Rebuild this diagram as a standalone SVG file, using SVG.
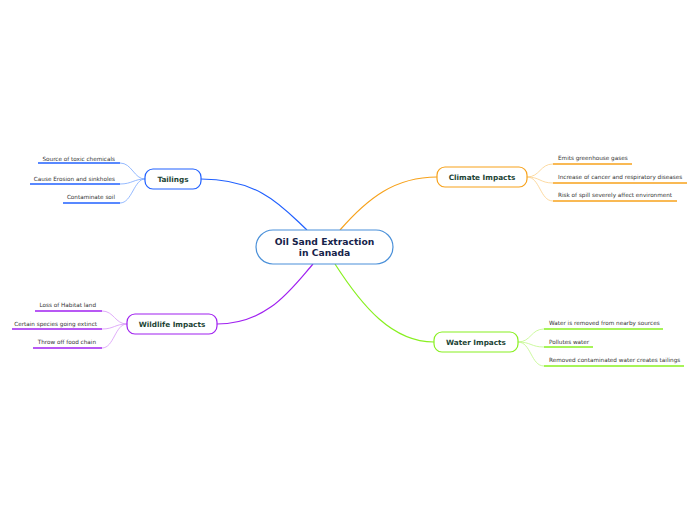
<svg xmlns="http://www.w3.org/2000/svg" width="696" height="520" viewBox="0 0 696 520">
<style>
.node{fill:#fff;stroke-width:1.2}
.title{font-family:"DejaVu Sans",Verdana,sans-serif;font-weight:bold;font-size:7.3px;fill:#1d4535;text-anchor:middle}
.center{font-family:"DejaVu Sans",Verdana,sans-serif;font-weight:bold;font-size:9.2px;fill:#16234a;text-anchor:middle}
.leaf{font-family:"DejaVu Sans",Verdana,sans-serif;font-size:5.7px;fill:#333}
.r{text-anchor:end}
.conn{fill:none;stroke-width:1.2}
.sub{fill:none;stroke-width:0.8}
.ul{stroke-width:1.5}
</style>
<rect width="696" height="520" fill="#fff"/>
<g id="connectors">
<path class="conn" stroke="#2060ff" d="M201,179 C262,179 285,210 307,230"/>
<path class="conn" stroke="#f7a21b" d="M340,230 C368,198 395,177 437,177"/>
<path class="conn" stroke="#a020f0" d="M217,324 C268,324 292,288 313,264"/>
<path class="conn" stroke="#88f020" d="M335,264 C362,306 392,342 434,342"/>
<g stroke="#7aa8ff" class="sub">
<path d="M120,163 C132,163 134,179 145,179"/>
<path d="M120,184 C132,184 134,179 145,179"/>
<path d="M120,203 C132,203 134,179 145,179"/>
</g>
<g stroke="#fbd08a" class="sub">
<path d="M527,177 C540,177 540,164 553,164"/>
<path d="M527,177 C540,177 540,183 553,183"/>
<path d="M527,177 C540,177 540,201 553,201"/>
</g>
<g stroke="#d898f8" class="sub">
<path d="M102,311 C114,311 115,324 127,324"/>
<path d="M102,329 C114,329 115,324 127,324"/>
<path d="M102,348 C114,348 115,324 127,324"/>
</g>
<g stroke="#c0f888" class="sub">
<path d="M518,342 C531,342 531,329 544,329"/>
<path d="M518,342 C531,342 531,347 544,347"/>
<path d="M518,342 C531,342 531,366 544,366"/>
</g>
</g>
<g id="center">
<rect class="node" x="256" y="230" width="137" height="34" rx="17" stroke="#4a90d9"/>
<text class="center" x="324.5" y="245">Oil Sand Extraction</text>
<text class="center" x="324.5" y="256">in Canada</text>
</g>
<g id="tailings">
<rect class="node" x="145" y="169" width="56" height="20" rx="8" stroke="#2060ff"/>
<text class="title" x="173" y="181.5">Tailings</text>
</g>
<g id="climate">
<rect class="node" x="437" y="167" width="90" height="20" rx="8" stroke="#f7a21b"/>
<text class="title" x="482" y="179.5">Climate Impacts</text>
</g>
<g id="wildlife">
<rect class="node" x="127" y="314" width="90" height="20" rx="8" stroke="#a020f0"/>
<text class="title" x="172" y="326.5">Wildlife Impacts</text>
</g>
<g id="water">
<rect class="node" x="434" y="332" width="84" height="20" rx="8" stroke="#88f020"/>
<text class="title" x="476" y="344.5">Water Impacts</text>
</g>
<g id="tailings-leaves">
<line class="ul" x1="38" y1="163" x2="120" y2="163" stroke="#2060ff"/>
<text class="leaf r" x="115" y="161">Source of toxic chemicals</text>
<line class="ul" x1="30" y1="184" x2="120" y2="184" stroke="#2060ff"/>
<text class="leaf r" x="115" y="181">Cause Erosion and sinkholes</text>
<line class="ul" x1="63" y1="203" x2="120" y2="203" stroke="#2060ff"/>
<text class="leaf r" x="115" y="199">Contaminate soil</text>
</g>
<g id="climate-leaves">
<line class="ul" x1="553" y1="164" x2="632" y2="164" stroke="#f7a21b"/>
<text class="leaf" x="558" y="160">Emits greenhouse gases</text>
<line class="ul" x1="553" y1="183" x2="687" y2="183" stroke="#f7a21b"/>
<text class="leaf" x="558" y="179">Increase of cancer and respiratory diseases</text>
<line class="ul" x1="553" y1="201" x2="677" y2="201" stroke="#f7a21b"/>
<text class="leaf" x="558" y="197">Risk of spill severely affect environment</text>
</g>
<g id="wildlife-leaves">
<line class="ul" x1="35" y1="311" x2="102" y2="311" stroke="#a020f0"/>
<text class="leaf r" x="96" y="307">Loss of Habitat land</text>
<line class="ul" x1="12" y1="329" x2="102" y2="329" stroke="#a020f0"/>
<text class="leaf r" x="97" y="326">Certain species going extinct</text>
<line class="ul" x1="33" y1="348" x2="102" y2="348" stroke="#a020f0"/>
<text class="leaf r" x="96" y="344">Throw off food chain</text>
</g>
<g id="water-leaves">
<line class="ul" x1="544" y1="329" x2="663" y2="329" stroke="#88f020"/>
<text class="leaf" x="549" y="325">Water is removed from nearby sources</text>
<line class="ul" x1="544" y1="347" x2="593" y2="347" stroke="#88f020"/>
<text class="leaf" x="549" y="344">Pollutes water</text>
<line class="ul" x1="544" y1="366" x2="684" y2="366" stroke="#88f020"/>
<text class="leaf" x="549" y="362">Removed contaminated water creates tailings</text>
</g>
</svg>
